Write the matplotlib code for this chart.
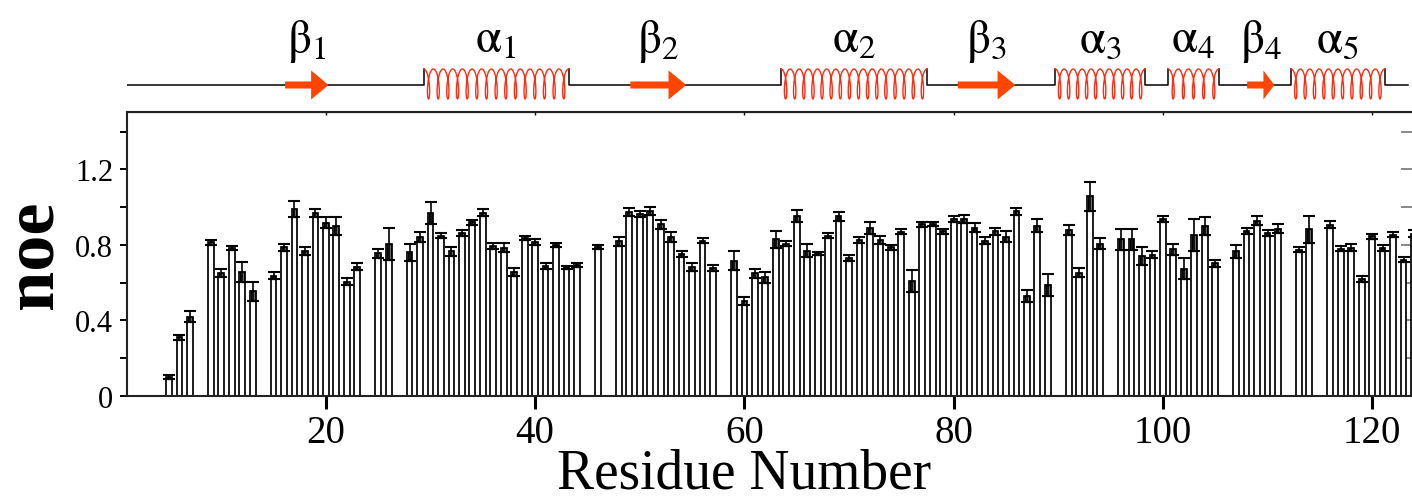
import numpy as np
import matplotlib
matplotlib.use('Agg')
import matplotlib.pyplot as plt
from matplotlib.ticker import FixedLocator

plt.rcParams['font.family'] = ['Liberation Serif', 'DejaVu Serif']
plt.rcParams['mathtext.fontset'] = 'stix'

# heteronuclear NOE per residue (missing residues = prolines / overlapped peaks)
residue = [5, 6, 7, 9, 10, 11, 12, 13, 15, 16, 17, 18, 19, 20, 21, 22, 23, 25, 26,
           28, 29, 30, 31, 32, 33, 34, 35, 36, 37, 38, 39, 40, 41, 42, 43, 44, 46,
           48, 49, 50, 51, 52, 53, 54, 55, 56, 57, 59, 60, 61, 62, 63, 64, 65, 66,
           67, 68, 69, 70, 71, 72, 73, 74, 75, 76, 77, 78, 79, 80, 81, 82, 83, 84,
           85, 86, 87, 88, 89, 91, 92, 93, 94, 96, 97, 98, 99, 100, 101, 102, 103,
           104, 105, 107, 108, 109, 110, 111, 113, 114, 116, 117, 118, 119, 120,
           121, 122, 123, 124]
noe = [0.100, 0.310, 0.420, 0.814, 0.650, 0.785, 0.656, 0.553, 0.636, 0.788, 0.991,
       0.768, 0.970, 0.918, 0.900, 0.605, 0.685, 0.755, 0.806,
       0.760, 0.842, 0.969, 0.848, 0.766, 0.863, 0.920, 0.971, 0.794, 0.785, 0.656,
       0.837, 0.815, 0.687, 0.800, 0.681, 0.693, 0.790,
       0.818, 0.974, 0.962, 0.981, 0.910, 0.840, 0.752, 0.683, 0.821, 0.676, 0.717,
       0.502, 0.649, 0.629, 0.829, 0.806, 0.953, 0.769,
       0.755, 0.849, 0.953, 0.731, 0.827, 0.889, 0.825, 0.788, 0.870, 0.608, 0.909,
       0.912, 0.873, 0.937, 0.937, 0.892, 0.822, 0.872,
       0.843, 0.978, 0.527, 0.902, 0.588, 0.879, 0.653, 1.057, 0.806, 0.829, 0.829,
       0.742, 0.747, 0.937, 0.777, 0.674, 0.853,
       0.900, 0.703, 0.767, 0.874, 0.929, 0.865, 0.886, 0.775, 0.882, 0.907, 0.780,
       0.784, 0.621, 0.846,
       0.783, 0.854, 0.722, 0.860]
noe_err = [0.010, 0.012, 0.027, 0.013, 0.020, 0.011, 0.055, 0.050, 0.019, 0.019, 0.042,
           0.020, 0.020, 0.028, 0.046, 0.018, 0.019, 0.023, 0.085,
           0.046, 0.025, 0.057, 0.013, 0.023, 0.016, 0.013, 0.019, 0.016, 0.025, 0.019,
           0.011, 0.016, 0.015, 0.012, 0.009, 0.009, 0.012,
           0.026, 0.022, 0.016, 0.021, 0.024, 0.027, 0.018, 0.020, 0.013, 0.015, 0.049,
           0.023, 0.023, 0.029, 0.046, 0.012, 0.032, 0.035,
           0.009, 0.014, 0.024, 0.017, 0.017, 0.030, 0.022, 0.013, 0.014, 0.060, 0.013,
           0.012, 0.013, 0.018, 0.021, 0.022, 0.018, 0.019,
           0.029, 0.019, 0.032, 0.035, 0.057, 0.024, 0.025, 0.079, 0.028, 0.057, 0.056,
           0.047, 0.019, 0.017, 0.029, 0.055, 0.084,
           0.048, 0.019, 0.034, 0.016, 0.026, 0.016, 0.023, 0.013, 0.073, 0.018, 0.014,
           0.019, 0.016, 0.013,
           0.016, 0.014, 0.014, 0.020]

# secondary structure, residue ranges
chain = (1.0, 123.4)
strands = [(16.1, 20.25), (49.1, 54.45), (80.4, 85.9), (108.05, 110.65)]
strand_names = [r'$\mathrm{\beta}_1$', r'$\mathrm{\beta}_2$', r'$\mathrm{\beta}_3$',
                r'$\mathrm{\beta}_4$']
helices = [(29.35, 43.2), (63.5, 77.45), (89.7, 98.3), (100.5, 105.35), (112.25, 121.2)]
helix_names = [r'$\mathrm{\alpha}_1$', r'$\mathrm{\alpha}_2$', r'$\mathrm{\alpha}_3$',
               r'$\mathrm{\alpha}_4$', r'$\mathrm{\alpha}_5$']

ARROW = '#ff4500'
COIL = '#ff2a10'

fig = plt.figure(figsize=(14.12, 5.02), dpi=100)
ax = fig.add_axes([0.09, 0.2098, 0.9129, 0.5651])

noe_a = np.array(noe)
err_a = np.array(noe_err)
ax.bar(residue, noe_a, width=0.55, color='white', edgecolor='black', linewidth=1.25, zorder=2)
ax.bar(residue, err_a, bottom=noe_a - err_a, width=0.36, color='#7a7a7a',
       edgecolor='black', linewidth=0.9, zorder=3)
ax.errorbar(residue, noe_a, yerr=err_a, fmt='none', ecolor='black', elinewidth=1.2,
            capsize=4.4, capthick=1.5, zorder=4)

ax.set_xlim(1, 124.2)
ax.set_ylim(0, 1.505)

ax.xaxis.set_major_locator(FixedLocator([20, 40, 60, 80, 100, 120]))
ax.yaxis.set_major_locator(FixedLocator([0, 0.4, 0.8, 1.2]))
ax.yaxis.set_minor_locator(FixedLocator([0.2, 0.6, 1.0, 1.4]))
ax.set_yticklabels(['0', '0.4', '0.8', '1.2'])
ax.tick_params(axis='x', which='major', direction='out', length=9.5, width=2.2,
               labelsize=28, pad=4)
ax.tick_params(axis='y', which='both', direction='out', length=5, width=1.4,
               labelsize=22, pad=5)
for s in ax.spines.values():
    s.set_linewidth(1.5)
    s.set_color('#222222')

# inward ticks on the top and right edges
sx = ax.secondary_xaxis('top')
sx.xaxis.set_major_locator(FixedLocator([20, 40, 60, 80, 100, 120]))
sx.tick_params(direction='in', length=2.5, width=1.0, labeltop=False)
sy = ax.secondary_yaxis('right')
sy.yaxis.set_major_locator(FixedLocator([0.2, 0.4, 0.6, 0.8, 1.0, 1.2, 1.4]))
sy.tick_params(direction='in', length=11, width=1.4, color='#888888', labelright=False)

ax.set_xlabel('Residue Number', fontsize=40, va='baseline')
ax.xaxis.set_label_coords(0.479, -0.322)
ax.text(-0.072, 0.5, 'noe', transform=ax.transAxes, rotation=90, ha='center',
        va='center', fontsize=52, fontweight='bold')

# secondary structure cartoon above the plot, y in pixel rows from the top
top = fig.add_axes([0.09, 0.7809, 0.9129, 0.2191])
top.set_xlim(ax.get_xlim())
top.set_ylim(110, 0)
top.axis('off')

BASE = 86
COIL_TOP = 70
COIL_MID = 85
COIL_R = 15
LABEL_Y = 53

bx, by = [chain[0]], [BASE]
for s, e in helices:
    bx += [s, s, np.nan, e, e]
    by += [BASE, COIL_TOP, np.nan, COIL_TOP, BASE]
bx.append(chain[1])
by.append(BASE)
top.plot(bx, by, color='black', lw=1.1, zorder=1)

for (s, e), name in zip(helices, helix_names):
    n = max(1, round((e - s) / 0.9))
    t = np.linspace(0, 2 * np.pi * n, 120 * n)
    c = (e - s) / (2 * np.pi * n)
    top.plot(s + c * t + 0.3 * np.sin(t), COIL_MID - COIL_R * np.cos(t),
             color=COIL, lw=1.0, zorder=2)
    top.text((s + e) / 2, LABEL_Y, name, ha='center', va='baseline', fontsize=34)

for (s, e), name in zip(strands, strand_names):
    head = min(1.7, 0.4 * (e - s))
    xs = [s, e - head, e - head, e, e - head, e - head, s]
    ys = [BASE - 3.5, BASE - 3.5, BASE - 14.5, BASE, BASE + 14.5, BASE + 3.5, BASE + 3.5]
    top.fill(xs, ys, color=ARROW, lw=0, zorder=3)
    top.text((s + e) / 2, LABEL_Y, name, ha='center', va='baseline', fontsize=34)

fig.savefig('out.png', dpi=100)
